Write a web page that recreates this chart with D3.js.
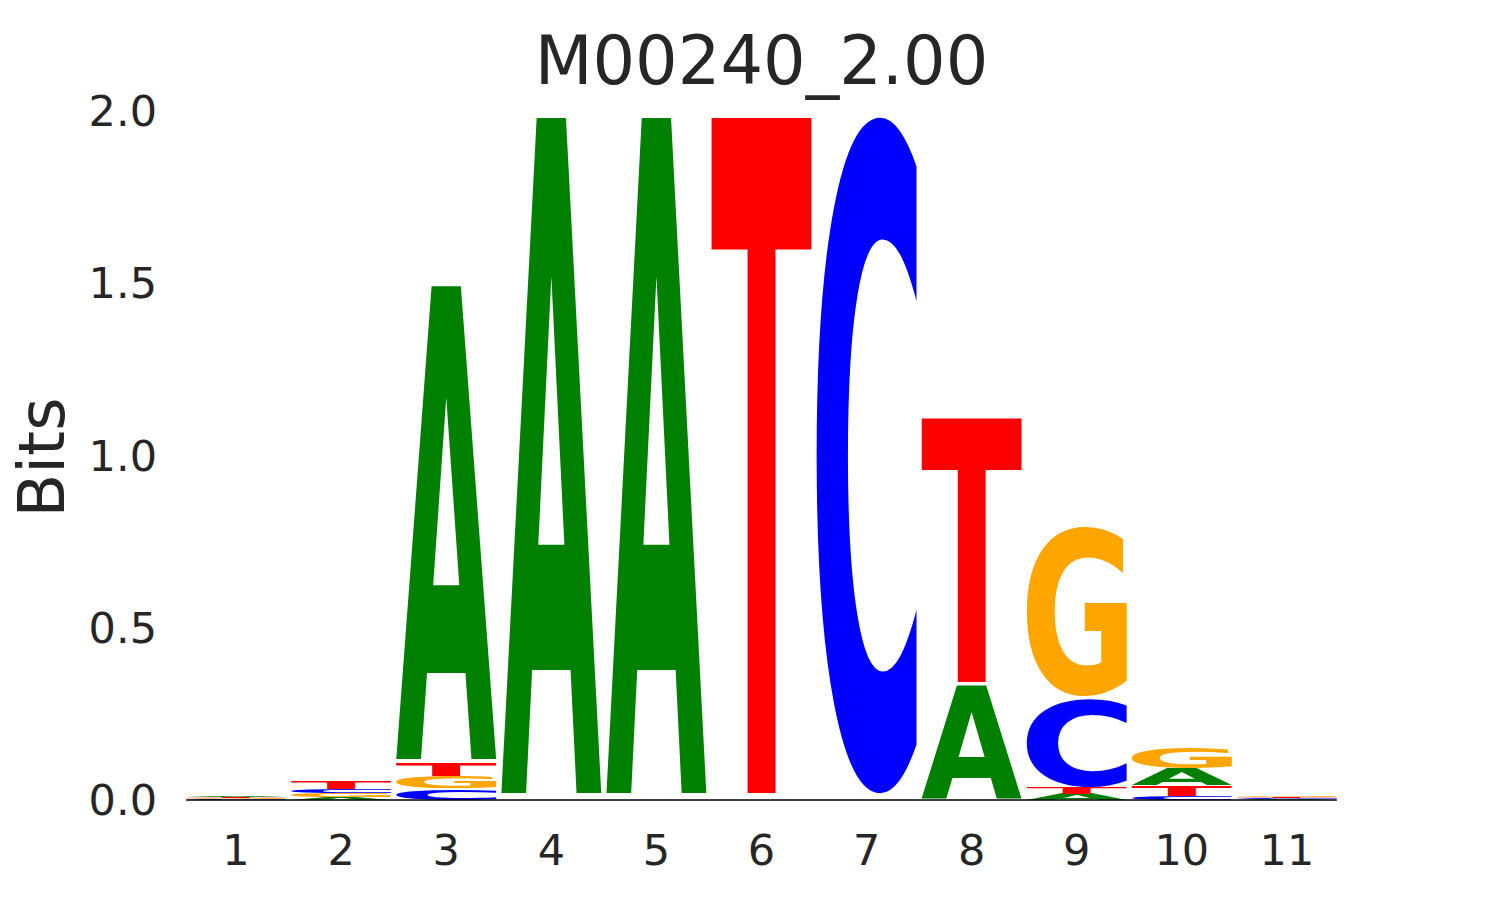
<!DOCTYPE html>
<html>
<head>
<meta charset="utf-8">
<script src="https://cdn.jsdelivr.net/npm/d3@7"></script>
<style>
  html, body { margin: 0; padding: 0; background: #ffffff; }
  svg { display: block; }
</style>
</head>
<body>
<svg id="chart" width="1485" height="900"></svg>
<script>
// ---- data ----
const title = "M00240_2.00";
const positions = [1, 2, 3, 4, 5, 6, 7, 8, 9, 10, 11];
const letters = ["A", "C", "G", "T"];
const heightsA = [0.005, 0.008, 1.400, 2.000, 2.000, 0.000, 0.000, 0.335, 0.018, 0.048, 0.002];
const heightsC = [0.002, 0.013, 0.033, 0.000, 0.000, 0.000, 2.000, 0.000, 0.260, 0.012, 0.003];
const heightsG = [0.003, 0.012, 0.035, 0.000, 0.000, 0.000, 0.000, 0.000, 0.500, 0.060, 0.005];
const heightsT = [0.004, 0.022, 0.037, 0.000, 0.000, 2.000, 0.000, 0.780, 0.019, 0.031, 0.004];
const yTicks = [0.0, 0.5, 1.0, 1.5, 2.0];
const yLabel = "Bits";
const letterColors = { A: "#008000", C: "#0000ff", G: "#ffa500", T: "#ff0000" };

const heightsBy = { A: heightsA, C: heightsC, G: heightsG, T: heightsT };

// ---- layout ----
const svg = d3.select("#chart");
const x = d3.scaleLinear().domain([0.5, 11.5]).range([183.5, 1339.5]);
const y = d3.scaleLinear().domain([0, 2]).range([800, 111]);
const glyphWidth = 0.95;
const vpad = 0.02;
const textColor = "#262626";

// measure true ink bounds of each glyph by rasterizing it
const FS = 1000;
const glyphFont = "bold " + FS + "px 'DejaVu Sans'";
const CW = 1600, CH = 1600, OX = 300, OY = 1250;
const canvas = document.createElement("canvas");
canvas.width = CW; canvas.height = CH;
const ctx = canvas.getContext("2d");
const ink = {};
letters.forEach(ch => {
  ctx.clearRect(0, 0, CW, CH);
  ctx.font = glyphFont;
  ctx.fillStyle = "#000";
  ctx.textBaseline = "alphabetic";
  ctx.fillText(ch, OX, OY);
  const data = ctx.getImageData(0, 0, CW, CH).data;
  let minX = CW, maxX = -1, minY = CH, maxY = -1;
  for (let yy = 0; yy < CH; yy++) {
    for (let xx = 0; xx < CW; xx++) {
      if (data[(yy * CW + xx) * 4 + 3] >= 128) {
        if (xx < minX) minX = xx;
        if (xx > maxX) maxX = xx;
        if (yy < minY) minY = yy;
        if (yy > maxY) maxY = yy;
      }
    }
  }
  if (maxX < 0) {
    const m = ctx.measureText(ch);
    ink[ch] = { x0: -m.actualBoundingBoxLeft, x1: m.actualBoundingBoxRight,
                y0: -m.actualBoundingBoxAscent, y1: m.actualBoundingBoxDescent };
  } else {
    ink[ch] = { x0: minX - OX, x1: maxX + 1 - OX, y0: minY - OY, y1: maxY + 1 - OY };
  }
});

// build stacked glyph boxes
const glyphs = [];
positions.forEach((p, i) => {
  const stack = letters.map(ch => ({ ch, h: heightsBy[ch][i] }))
    .filter(d => d.h > 0)
    .sort((a, b) => a.h - b.h);
  let floor = 0;
  stack.forEach(d => {
    const ceil = floor + d.h;
    glyphs.push({ pos: p, ch: d.ch, floor: floor + vpad * d.h / 2, ceil: ceil - vpad * d.h / 2 });
    floor = ceil;
  });
});

const g = svg.append("g");
g.selectAll("text.glyph").data(glyphs).enter().append("text")
  .attr("class", "glyph")
  .attr("x", 0).attr("y", 0)
  .style("font-family", "'DejaVu Sans'")
  .style("font-weight", "bold")
  .style("font-size", FS + "px")
  .attr("fill", d => letterColors[d.ch])
  .attr("transform", d => {
    const b = ink[d.ch];
    const bx = x(d.pos - glyphWidth / 2);
    const bw = x(d.pos + glyphWidth / 2) - bx;
    const by = y(d.ceil);
    const bh = y(d.floor) - by;
    const sx = bw / (b.x1 - b.x0);
    const sy = bh / (b.y1 - b.y0);
    return `translate(${bx},${by}) scale(${sx},${sy}) translate(${-b.x0},${-b.y0})`;
  })
  .text(d => d.ch);

// baseline
svg.append("line")
  .attr("x1", x(positions[0] - glyphWidth / 2))
  .attr("x2", x(positions[positions.length - 1] + glyphWidth / 2))
  .attr("y1", y(0)).attr("y2", y(0))
  .attr("stroke", "#000").attr("stroke-width", 1.5);

// y axis tick labels
svg.append("g").selectAll("text").data(yTicks).enter().append("text")
  .attr("x", 157)
  .attr("y", d => y(d) + 15)
  .attr("text-anchor", "end")
  .style("font-family", "'DejaVu Sans'")
  .style("font-size", "43px")
  .attr("fill", textColor)
  .text(d => d.toFixed(1));

// x axis tick labels
svg.append("g").selectAll("text").data(positions).enter().append("text")
  .attr("x", d => x(d))
  .attr("y", 865)
  .attr("text-anchor", "middle")
  .style("font-family", "'DejaVu Sans'")
  .style("font-size", "43px")
  .attr("fill", textColor)
  .text(d => d);

// y label
svg.append("text")
  .attr("transform", `translate(64,${(y(0) + y(2)) / 2 + 2}) rotate(-90)`)
  .attr("text-anchor", "middle")
  .style("font-family", "'DejaVu Sans'")
  .style("font-size", "64px")
  .attr("fill", textColor)
  .text(yLabel);

// title
svg.append("text")
  .attr("x", (x(0.5) + x(11.5)) / 2)
  .attr("y", 84)
  .attr("text-anchor", "middle")
  .style("font-family", "'DejaVu Sans'")
  .style("font-size", "67px")
  .attr("fill", textColor)
  .text(title);
</script>
</body>
</html>
